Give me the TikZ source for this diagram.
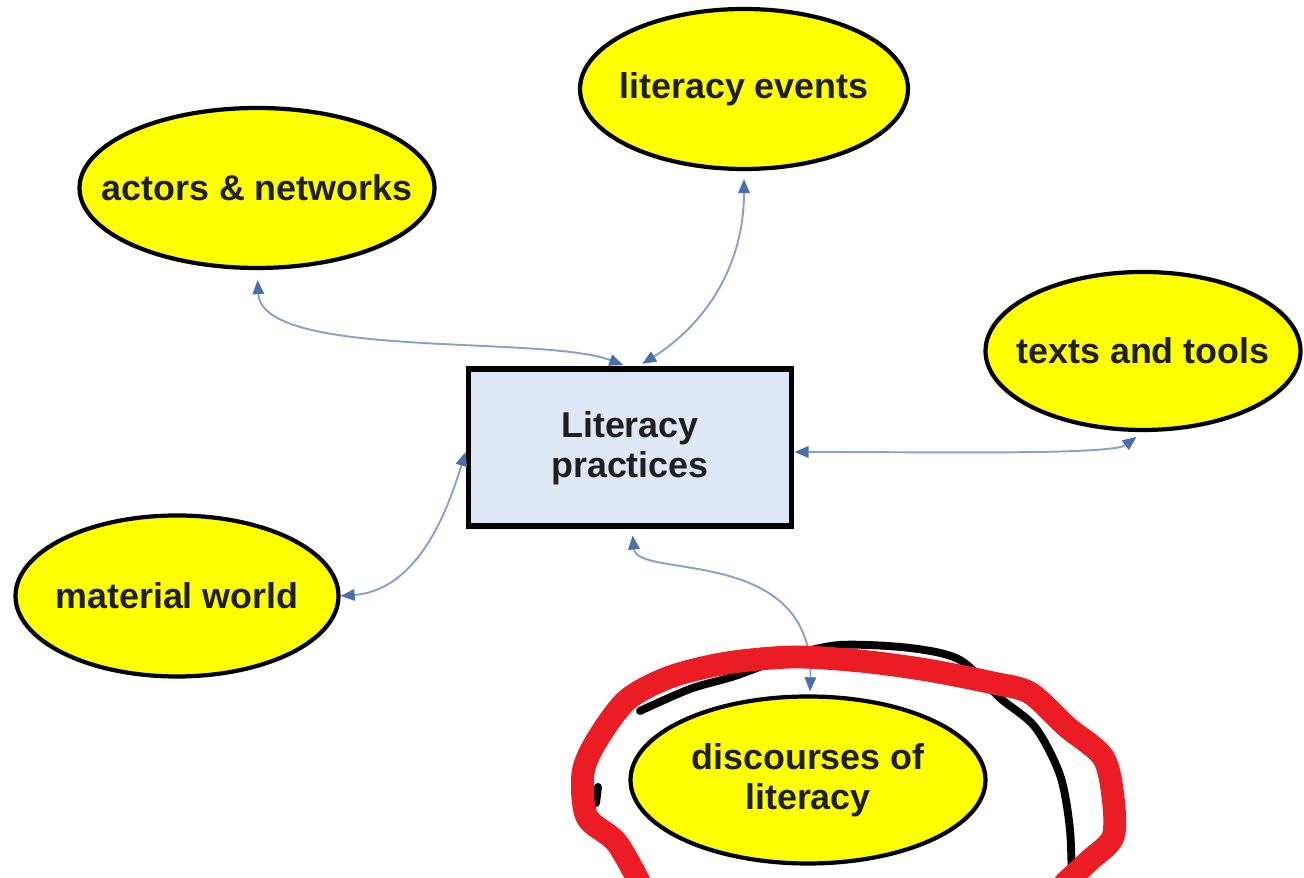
\documentclass[tikz,border=0pt]{standalone}
\usepackage{fontspec}
\setmainfont{Liberation Sans}
\usetikzlibrary{shapes.geometric,arrows.meta}
\definecolor{ideayellow}{RGB}{255,255,0}
\definecolor{boxblue}{RGB}{222,231,245}
\definecolor{linkblue}{RGB}{135,162,200}
\definecolor{tipblue}{RGB}{72,112,172}
\definecolor{penred}{RGB}{236,28,36}

\begin{document}
\begin{tikzpicture}[
    idea/.style={ellipse, draw=black, line width=2.4pt, fill=ideayellow, inner ysep=0pt, inner xsep=-2cm,
        align=center, font=\fontsize{20.4}{23}\selectfont\bfseries, text=black!88},
    practice/.style={rectangle, draw=black, line width=3.4pt, fill=boxblue, inner sep=0pt,
        align=center, font=\fontsize{20.4}{23}\selectfont\bfseries, text=black!88,
        minimum width=6.46cm, minimum height=3.14cm},
    link/.style={draw=linkblue, line width=1.1pt,
        {Triangle[length=8pt,width=6.5pt,color=tipblue]}-{Triangle[length=8pt,width=6.5pt,color=tipblue]}},
    redpen/.style={draw=penred, line width=13pt, line cap=round, line join=round},
    blackpen/.style={draw=black, line width=4.5pt, line cap=round, line join=round}
]
    \clip (0,0) rectangle (26.08,17.56);

    % Nodes
    \node[practice] (LP) at (12.60,8.60) {Literacy\\practices};
    \node[idea, minimum width=7.10cm, minimum height=3.20cm] (AN) at (5.14,13.80) {actors \& networks};
    \node[idea, minimum width=6.56cm, minimum height=3.20cm] (LE) at (14.88,15.78) {literacy events};
    \node[idea, minimum width=6.30cm, minimum height=3.16cm] (TT) at (22.86,10.54) {texts and tools};
    \node[idea, minimum width=6.46cm, minimum height=3.22cm] (MW) at (3.54,5.64) {material world};
    \node[idea, minimum width=7.10cm, minimum height=3.34cm] (DL) at (16.16,1.96) {discourses of\\literacy};

    % Arrows
    \draw[link, shorten <=0.2cm, shorten >=0.08cm] (AN.south) .. controls +(0.1,-1.8) and +(-1.68,0.64) .. ([xshift=-0.06cm]LP.north);
    \draw[link, shorten <=0.16cm, shorten >=0.1cm] (LE.south) .. controls +(0,-1.9) and +(1.34,0.84) .. ([xshift=0.16cm]LP.north);
    \draw[link, shorten >=0.16cm] ([yshift=-0.08cm]LP.east) .. controls +(3.0,0) and +(-0.62,-0.46) .. (TT.south);
    \draw[link] (MW.east) .. controls +(1.6,0.12) and +(-0.32,-1.04) .. ([yshift=-0.08cm]LP.west);
    \draw[link, shorten <=0.12cm, shorten >=0.06cm] ([xshift=0.04cm]LP.south) .. controls +(0.1,-1.0) and +(0.08,3.0) .. ([xshift=0.04cm]DL.north);

    % Pen marks round the discourses
    \draw[blackpen] plot[smooth] coordinates {(12.80,3.34) (13.80,3.78) (14.70,4.04) (15.80,4.44) (16.80,4.66) (18.20,4.60) (19.20,4.36) (20.00,3.60) (20.70,3.02) (21.20,2.06) (21.40,0.96) (21.44,-0.30)};
    \draw[blackpen] (11.96,1.82) -- (11.92,1.50);
    \draw[redpen] plot[smooth] coordinates {(12.90,-0.30) (12.34,0.70) (11.74,1.22) (11.66,2.10) (11.94,2.76) (12.54,3.56) (13.40,4.02) (14.54,4.30) (15.86,4.42) (17.20,4.34) (18.54,4.16) (19.86,3.90) (20.60,3.70) (21.34,3.02) (22.06,2.42) (22.26,1.62) (22.26,0.82) (21.80,0.36) (21.30,-0.10)};

\end{tikzpicture}
\end{document}
